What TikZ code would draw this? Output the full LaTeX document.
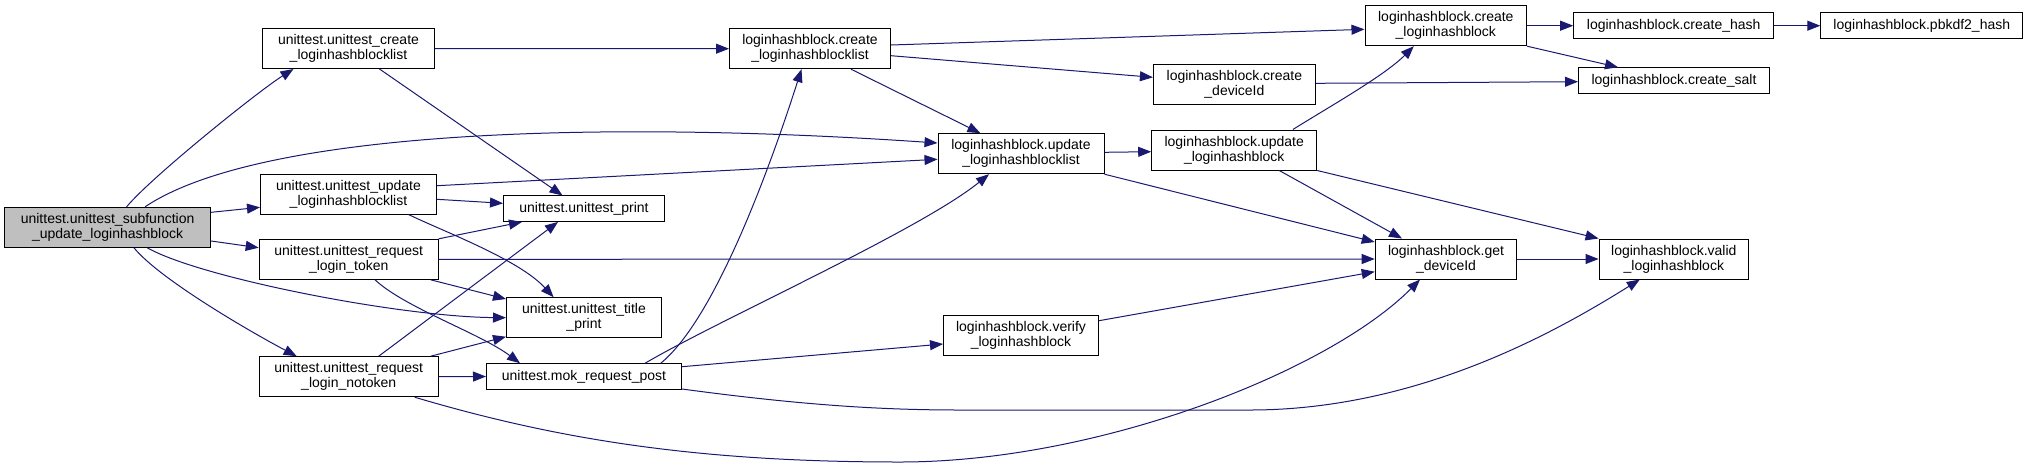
\documentclass[tikz,border=0pt]{standalone}
\usepackage{fontspec}
\setmainfont{Liberation Sans}
\usetikzlibrary{arrows.meta}
\definecolor{navy}{RGB}{25,25,112}
\definecolor{rootgray}{RGB}{191,191,191}
\tikzset{
  nd/.style={draw=black, line width=1pt, fill=white, inner sep=0pt, align=center,
    font=\fontsize{14}{15}\selectfont, minimum height=40pt},
  nd1/.style={nd, minimum height=25.5pt},
  e/.style={draw=navy, line width=1pt, -{Triangle[length=13pt,width=10pt]}},
}
\begin{document}
\begin{tikzpicture}[x=1pt,y=-1pt]
\useasboundingbox (0,0) rectangle (2028,467);
% nodes
\node[nd, fill=rootgray, minimum width=206pt] (root) at (107.6,227.3) {unittest.unittest\_subfunction\\\_update\_loginhashblock};
\node[nd, minimum width=172pt] (UC) at (348.5,48.5) {unittest.unittest\_create\\\_loginhashblocklist};
\node[nd, minimum width=176pt] (UU) at (348.5,194) {unittest.unittest\_update\\\_loginhashblocklist};
\node[nd, minimum width=179pt] (URT) at (348.7,259.3) {unittest.unittest\_request\\\_login\_token};
\node[nd, minimum width=179pt] (URN) at (348.7,376.7) {unittest.unittest\_request\\\_login\_notoken};
\node[nd1, minimum width=161pt] (UP) at (584,208.7) {unittest.unittest\_print};
\node[nd, minimum width=155pt] (UTP) at (584,317.7) {unittest.unittest\_title\\\_print};
\node[nd1, minimum width=195pt] (MOK) at (584,376.5) {unittest.mok\_request\_post};
\node[nd, minimum width=161pt] (LCL) at (810,48.7) {loginhashblock.create\\\_loginhashblocklist};
\node[nd, minimum width=166pt] (LUL) at (1021,153.7) {loginhashblock.update\\\_loginhashblocklist};
\node[nd, minimum width=155pt] (LVB) at (1021,335) {loginhashblock.verify\\\_loginhashblock};
\node[nd, minimum width=162pt] (LCD) at (1234.4,84.3) {loginhashblock.create\\\_deviceId};
\node[nd, minimum width=165pt] (LUB) at (1234.2,150) {loginhashblock.update\\\_loginhashblock};
\node[nd, minimum width=161.6pt] (LCB) at (1445.8,25.7) {loginhashblock.create\\\_loginhashblock};
\node[nd, minimum width=141.6pt] (LGD) at (1446,259) {loginhashblock.get\\\_deviceId};
\node[nd1, minimum width=200pt] (LCH) at (1673.7,25.7) {loginhashblock.create\_hash};
\node[nd1, minimum width=191pt] (LCS) at (1674,80.5) {loginhashblock.create\_salt};
\node[nd, minimum width=149.5pt] (LVL) at (1673.8,259) {loginhashblock.valid\\\_loginhashblock};
\node[nd1, minimum width=202pt] (LPB) at (1921.8,25.7) {loginhashblock.pbkdf2\_hash};
% edges
\draw[e] ([xshift=19pt]root.north) .. controls +(25,-30) and +(-35,22) .. ([xshift=-55pt]UC.south);
\draw[e] ([xshift=37.5pt]root.north) .. controls +(115,-77) and +(-336,-23) .. ([yshift=10.7pt]LUL.west);
\draw[e] ([yshift=15pt]root.east) -- ([yshift=-13.3pt]UU.west);
\draw[e] ([yshift=-13.7pt]root.east) -- ([yshift=11.6pt]URT.west);
\draw[e] ([xshift=39.7pt]root.south) .. controls +(53,30) and +(-107,-1) .. (UTP.west);
\draw[e] ([xshift=26.4pt]root.south) .. controls +(26,32) and +(-42,-22) .. ([xshift=-52pt]URN.north);
\draw[e] (UC.east) -- (LCL.west);
\draw[e] ([xshift=31pt]UC.south) -- ([xshift=-21.5pt]UP.north);
\draw[e] ([yshift=8.3pt]UU.east) -- ([yshift=-5.6pt]LUL.west);
\draw[e] ([yshift=-5.3pt]UU.east) -- ([yshift=5.4pt]UP.west);
\draw[e] ([xshift=60pt]UU.south) .. controls +(35,17) and +(-35,-38) .. ([xshift=-30.4pt]UTP.north);
\draw[e] (URT.north east) -- ([xshift=-62pt]UP.south);
\draw[e] (URT.east) -- (LGD.west);
\draw[e] ([xshift=82pt]URT.south) -- ([yshift=18.7pt]UTP.west);
\draw[e] ([xshift=26.3pt]URT.south) .. controls +(30,28) and +(-40,-30) .. ([xshift=-64pt]MOK.north);
\draw[e] ([xshift=30pt]URN.north) -- ([xshift=-26pt]UP.south);
\draw[e] ([xshift=82pt]URN.north) -- ([yshift=-19pt]UTP.west);
\draw[e] (URN.east) -- (MOK.west);
\draw[e] ([xshift=66pt]URN.south) .. controls +(145,43) and +(-200,0) .. (900,462) .. controls +(200,0) and +(-90,91) .. ([xshift=-26pt]LGD.south);
\draw[e] ([xshift=76.7pt]MOK.north) .. controls +(54,-44) and +(-32,100) .. ([xshift=-8.5pt]LCL.south);
\draw[e] ([xshift=61pt]MOK.north) .. controls +(75,-44) and +(-69,56) .. ([xshift=-32pt]LUL.south);
\draw[e] ([yshift=9.8pt]MOK.east) -- ([yshift=-9pt]LVB.west);
\draw[e] ([yshift=-12.5pt]MOK.east) .. controls +(119,16) and +(-80,0) .. (960,410) -- (1250,410) .. controls +(170,0) and +(-80,50) .. ([xshift=-34pt]LVL.south);
\draw[e] ([yshift=3.7pt]LCL.east) -- ([yshift=-3.6pt]LCB.west);
\draw[e] ([yshift=-7pt]LCL.east) -- ([yshift=7pt]LCD.west);
\draw[e] ([xshift=41pt]LCL.south) -- ([xshift=-40.6pt]LUL.north);
\draw[e] ([yshift=1pt]LCD.east) -- ([yshift=-1.2pt]LCS.west);
\draw[e] ([yshift=1.4pt]LUL.east) -- ([yshift=-1.7pt]LUB.west);
\draw[e] (LUL.south east) -- ([yshift=17pt]LGD.west);
\draw[e] ([xshift=58.7pt]LUB.north) .. controls +(35,-22) and +(-30,30) .. ([xshift=-32pt]LCB.south);
\draw[e] ([xshift=45pt]LUB.south) -- ([xshift=-44pt]LGD.north);
\draw[e] (LUB.south east) -- (LVL.north west);
\draw[e] (LCB.east) -- (LCH.west);
\draw[e] (LCB.south east) -- ([xshift=-56pt]LCS.north);
\draw[e] (LCH.east) -- (LPB.west);
\draw[e] ([yshift=14.3pt]LVB.east) -- ([yshift=-12.7pt]LGD.west);
\draw[e] (LGD.east) -- (LVL.west);
\end{tikzpicture}
\end{document}
